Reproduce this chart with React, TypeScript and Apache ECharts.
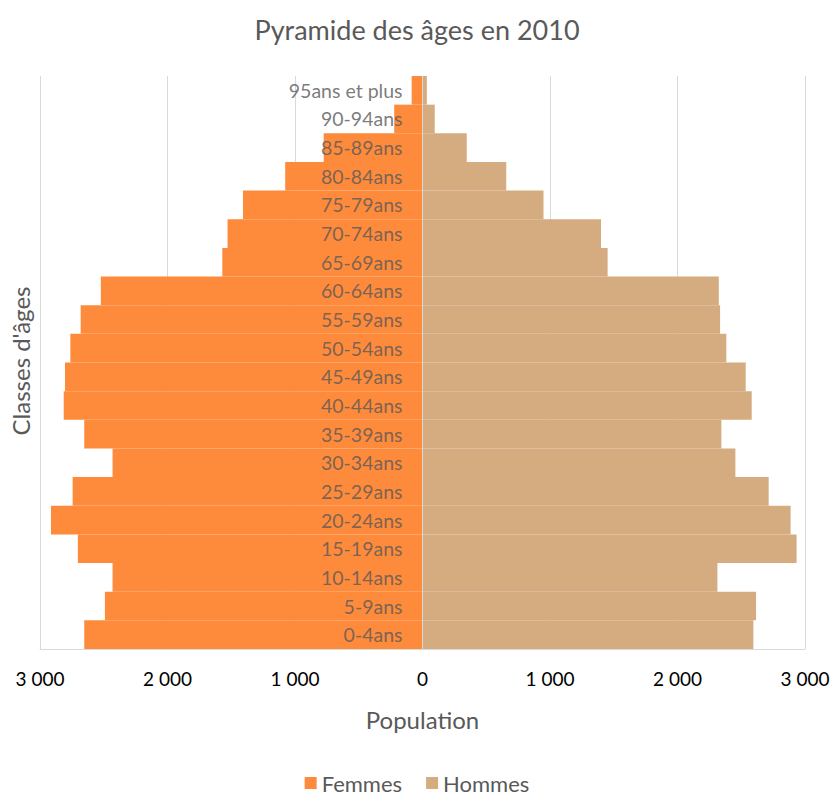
import React, { useEffect, useRef } from "react";
import * as echarts from "echarts";

const categories = [
  "0-4ans", "5-9ans", "10-14ans", "15-19ans", "20-24ans", "25-29ans", "30-34ans",
  "35-39ans", "40-44ans", "45-49ans", "50-54ans", "55-59ans", "60-64ans", "65-69ans",
  "70-74ans", "75-79ans", "80-84ans", "85-89ans", "90-94ans", "95ans et plus",
];

const femmes = [
  2653, 2491, 2431, 2703, 2914, 2744, 2431, 2653, 2814, 2804, 2762, 2681, 2523, 1570,
  1529, 1408, 1077, 775, 222, 85,
];

const hommes = [
  2595, 2616, 2313, 2934, 2887, 2715, 2454, 2344, 2582, 2535, 2383, 2334, 2324, 1452,
  1400, 949, 657, 347, 96, 34,
];

const xTicks = { min: -3000, max: 3000, interval: 1000 };

const FONT = "Lato, 'Open Sans', sans-serif";

function fmt(v: number): string {
  return String(Math.abs(v)).replace(/\B(?=(\d{3})+(?!\d))/g, " ");
}

export default function App() {
  const ref = useRef<HTMLDivElement>(null);
  useEffect(() => {
    if (!ref.current) return;
    const chart = echarts.init(ref.current, undefined, { renderer: "svg" });
    chart.setOption({
      animation: false,
      textStyle: { fontFamily: FONT },
      title: {
        text: "Pyramide des âges en 2010",
        left: "center",
        top: 11,
        textStyle: { fontFamily: FONT, fontSize: 27, fontWeight: "normal", color: "#595959" },
      },
      legend: {
        bottom: 0,
        left: "center",
        itemWidth: 12,
        itemHeight: 12,
        itemGap: 24,
        icon: "rect",
        textStyle: { fontFamily: FONT, fontSize: 22, color: "#595959" },
        data: ["Femmes", "Hommes"],
      },
      grid: { left: 40, right: 29, top: 76, bottom: 150, containLabel: false, outerBoundsMode: "none" },
      xAxis: {
        type: "value",
        min: xTicks.min,
        max: xTicks.max,
        interval: xTicks.interval,
        name: "Population",
        nameLocation: "middle",
        nameGap: 58,
        nameTextStyle: { fontFamily: FONT, fontSize: 24, color: "#595959" },
        axisLine: { show: true, lineStyle: { color: "#d9d9d9" } },
        axisTick: { show: false },
        splitLine: { show: true, lineStyle: { color: "#d9d9d9" } },
        axisLabel: {
          formatter: (v: number) => fmt(v),
          fontFamily: FONT,
          fontSize: 19,
          color: "#000",
          margin: 20,
        },
      },
      yAxis: {
        type: "category",
        data: categories,
        axisLine: { show: true, onZero: true, lineStyle: { color: "#d9d9d9" } },
        axisTick: { show: false },
        axisLabel: { show: false },
        z: 5,
      },
      graphic: [
        {
          type: "text",
          x: 20,
          y: 361,
          rotation: Math.PI / 2,
          style: {
            text: "Classes d'âges",
            fontFamily: FONT,
            fontSize: 24,
            fill: "#595959",
            align: "center",
            verticalAlign: "middle",
          },
        },
      ],
      series: [
        {
          name: "Femmes",
          type: "bar",
          stack: "total",
          barCategoryGap: 0,
          silent: true,
          itemStyle: { color: "#FE8B3C" },
          data: femmes.map((v) => -v),
        },
        {
          name: "Hommes",
          type: "bar",
          stack: "total",
          barCategoryGap: 0,
          silent: true,
          itemStyle: { color: "#D5AB80" },
          data: hommes,
        },
        {
          name: "labels",
          type: "scatter",
          symbolSize: 0,
          silent: true,
          z: 10,
          data: categories.map((c) => [0, c]),
          label: {
            show: true,
            position: "left",
            distance: 20,
            formatter: (p: any) => categories[p.dataIndex],
            fontFamily: FONT,
            fontSize: 19.5,
            color: "#595959",
          },
        },
      ],
    });
    return () => chart.dispose();
  }, []);
  return (
    <div
      ref={ref}
      style={{ position: "absolute", left: 0, top: 0, width: 834, height: 799 }}
    />
  );
}
